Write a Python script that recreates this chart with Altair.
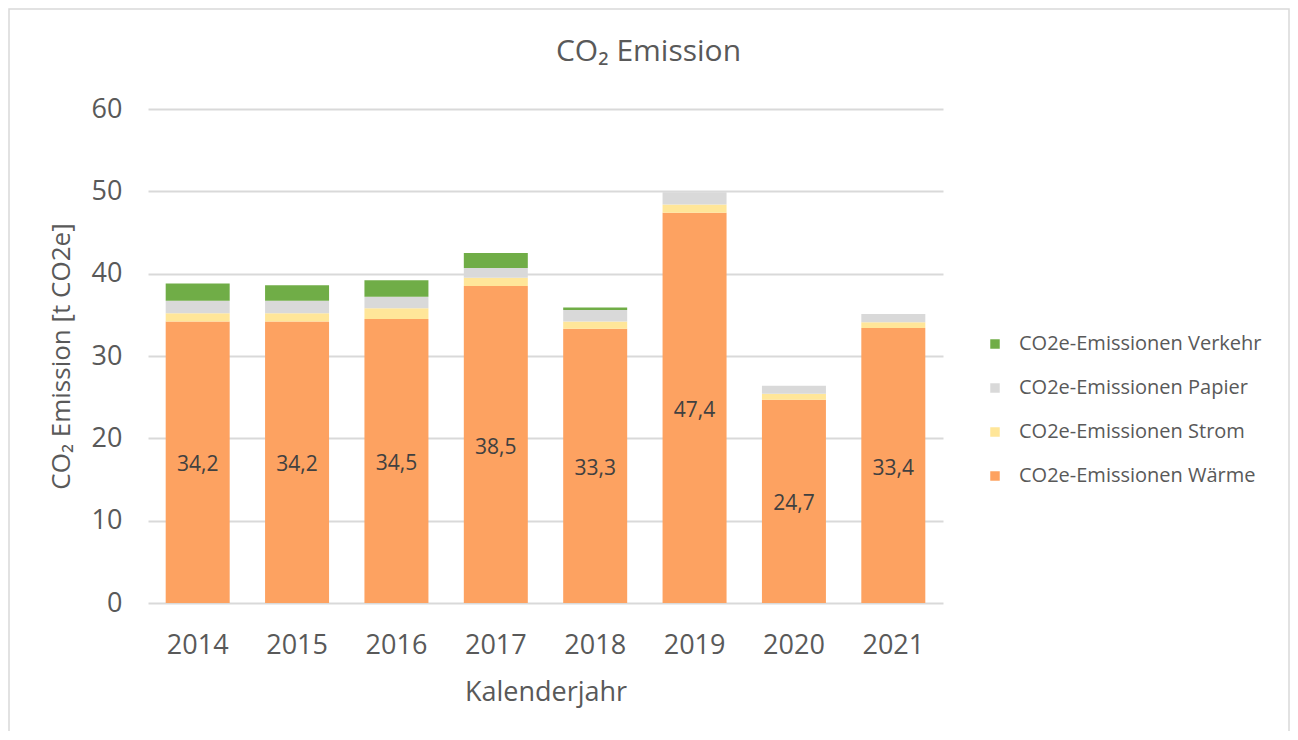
import altair as alt
import pandas as pd

years = ["2014", "2015", "2016", "2017", "2018", "2019", "2020", "2021"]
waerme = [34.2, 34.2, 34.5, 38.5, 33.3, 47.4, 24.7, 33.4]
strom = [1.0, 1.0, 1.3, 1.0, 0.9, 1.0, 0.7, 0.7]
papier = [1.5, 1.5, 1.4, 1.2, 1.4, 1.5, 1.0, 1.0]
verkehr = [2.1, 1.9, 2.0, 1.8, 0.3, 0.0, 0.0, 0.0]

series_names = [
    "CO2e-Emissionen Wärme",
    "CO2e-Emissionen Strom",
    "CO2e-Emissionen Papier",
    "CO2e-Emissionen Verkehr",
]
series_values = [waerme, strom, papier, verkehr]
series_colors = ["#FDA261", "#FFE699", "#D9D9D9", "#70AD47"]

rows = []
for order, (name, vals) in enumerate(zip(series_names, series_values)):
    for y, v in zip(years, vals):
        rows.append({"Jahr": y, "Kategorie": name, "Wert": v, "ord": order})
df = pd.DataFrame(rows)

labels_df = pd.DataFrame({
    "Jahr": years,
    "Wert": waerme,
    "half": [v / 2 for v in waerme],
    "label": [f"{v:.1f}".replace(".", ",") for v in waerme],
})

FONT = "Open Sans"
GREY = "#595959"

legend_domain = list(reversed(series_names))
legend_range = list(reversed(series_colors))

x_enc = alt.X(
    "Jahr:N",
    sort=years,
    scale=alt.Scale(paddingInner=0.356, paddingOuter=0.178),
    axis=alt.Axis(
        title="Kalenderjahr",
        labelAngle=0,
        labelFontSize=27,
        labelColor=GREY,
        labelFont=FONT,
        labelPadding=29,
        ticks=False,
        domain=False,
        titleFontSize=27,
        titleFont=FONT,
        titleColor=GREY,
        titleFontWeight="normal",
        titlePadding=21,
    ),
)

bars = alt.Chart(df).mark_bar().encode(
    x=x_enc,
    y=alt.Y(
        "Wert:Q",
        stack="zero",
        scale=alt.Scale(domain=[0, 60]),
        axis=alt.Axis(
            title="CO₂ Emission [t CO2e]",
            values=[0, 10, 20, 30, 40, 50, 60],
            labelFontSize=27,
            labelColor=GREY,
            labelFont=FONT,
            labelPadding=26,
            ticks=False,
            domain=False,
            grid=True,
            gridColor="#D9D9D9",
            gridWidth=2,
            titleFontSize=26,
            titleFont=FONT,
            titleColor=GREY,
            titleFontWeight="normal",
            titlePadding=17,
        ),
    ),
    color=alt.Color(
        "Kategorie:N",
        scale=alt.Scale(domain=legend_domain, range=legend_range),
        legend=alt.Legend(
            title=None,
            orient="none",
            legendX=837,
            legendY=225,
            symbolType="square",
            symbolSize=90,
            symbolStrokeWidth=0,
            labelFontSize=20,
            labelFont=FONT,
            labelColor=GREY,
            labelOffset=14,
            labelLimit=400,
            rowPadding=24,
            padding=0,
        ),
    ),
    order=alt.Order("ord:Q", sort="ascending"),
)

text = alt.Chart(labels_df).mark_text(
    fontSize=21, font=FONT, color="#404040", baseline="middle", dy=3
).encode(
    x=alt.X("Jahr:N", sort=years),
    y=alt.Y("half:Q"),
    text="label:N",
)

border = alt.Chart(pd.DataFrame({"a": [0]})).mark_rect(
    fillOpacity=0, stroke="#D9D9D9", strokeWidth=1.5
).encode(
    x=alt.value(-139),
    x2=alt.value(1141),
    y=alt.value(-100),
    y2=alt.value(660),
)

chart = alt.layer(border, bars, text).properties(
    width=795,
    height=494,
    padding={"left": 140, "top": 101, "right": 347, "bottom": 128},
    autosize=alt.AutoSizeParams(type="none"),
    title=alt.TitleParams(
        "CO₂ Emission",
        fontSize=30,
        font=FONT,
        color=GREY,
        fontWeight="normal",
        anchor="middle",
        dx=103,
        offset=-59,
    ),
).configure_view(stroke=None)

chart.save("out.html", embed_options={"renderer": "svg", "actions": False})
